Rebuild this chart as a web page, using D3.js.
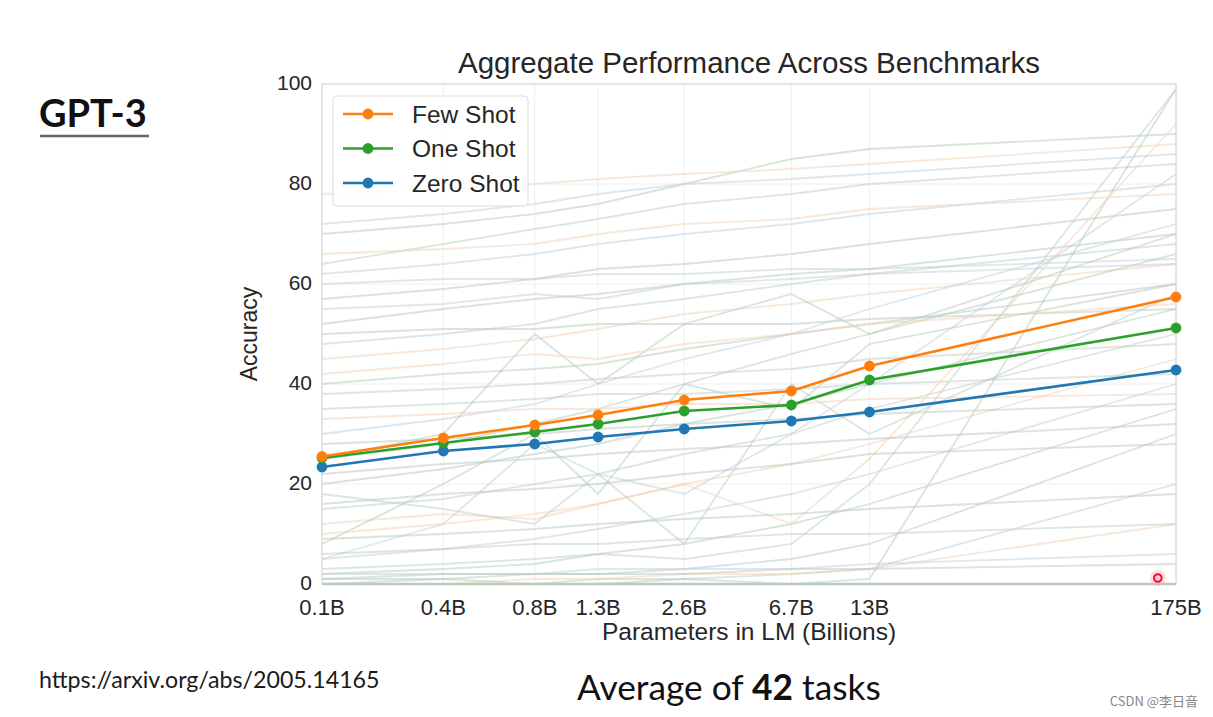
<!DOCTYPE html>
<html><head><meta charset="utf-8">
<script src="https://cdn.jsdelivr.net/npm/d3@7/dist/d3.min.js"></script>
<style>body{margin:0;background:#fff;}svg{display:block;}</style>
</head><body>
<svg id="chart" width="1213" height="717"></svg>
<script>
// ---- data ----
const params = [0.125, 0.35, 0.76, 1.3, 2.7, 6.7, 13, 175];
const tickLabels = ["0.1B","0.4B","0.8B","1.3B","2.6B","6.7B","13B","175B"];
const yTicks = [0,20,40,60,80,100];
const seriesNames = ["Few Shot","One Shot","Zero Shot"];
const fewShot  = [25.5, 29.2, 31.8, 33.8, 36.8, 38.6, 43.6, 57.4];
const oneShot  = [25.2, 28.2, 30.4, 32.0, 34.6, 35.8, 40.8, 51.2];
const zeroShot = [23.4, 26.6, 28.0, 29.4, 31.0, 32.6, 34.4, 42.8];
// faint per-task curves (estimated)
const tasks = [
 [70,72,74,76,80,85,87,90],[64,68,71,73,76,78,80,84],[78,79,80,81,82,83,84,88],
 [62,64,66,68,70,72,74,80],[57,59,61,63,64,66,68,75],[52,55,57,58,60,62,63,70],
 [48,50,52,55,57,60,62,68],[45,47,49,51,54,56,58,64],[60,61,61,62,62,63,63,65],
 [50,51,51,52,52,52,53,55],[40,42,43,44,47,50,52,60],[35,36,37,38,38,39,40,42],
 [33,34,35,35,36,36,37,38],[30,33,36,40,45,50,55,72],[25,28,32,35,40,46,50,66],
 [20,23,26,28,32,36,40,55],[15,17,20,22,26,30,35,50],[10,12,14,16,20,24,28,45],
 [5,7,9,11,14,18,22,40],[2,3,4,6,8,12,16,35],[1,1,2,2,3,5,8,30],
 [0,0,0,1,1,2,3,20],[0,0,1,1,2,2,3,12],[2,2,2,3,3,3,4,6],
 [1,2,2,2,2,3,3,4],[0,1,0,0,1,0,1,99],[3,4,5,6,5,8,20,99],
 [12,14,13,16,20,12,25,92],[5,12,28,22,18,30,40,82],[25,30,50,40,52,58,50,70],
 [8,20,30,18,40,35,48,60],[18,15,12,22,8,40,30,58],[42,44,46,45,48,50,52,56],
 [55,56,58,57,60,61,62,64],[22,24,25,26,27,28,29,32],[28,29,30,31,32,33,34,36],
 [38,39,40,41,42,43,45,48],[66,67,68,70,72,73,75,78],[72,74,76,78,80,81,82,86],
 [16,18,19,20,22,24,26,28],[9,10,11,12,13,14,15,18],[6,7,8,8,9,10,10,12]
];
const seriesColors = ["#ff7f0e","#2ca02c","#1f77b4"];
const taskColors = ["#b3cabb","#bccdc3","#f3d2b4","#bfd0dc","#b6c8bc"];

// ---- chart ----
const svg = d3.select("#chart");
const L=322, R=1176, T=84, B=584;
const x = d3.scaleLog().domain([params[0], params[params.length-1]]).range([L,R]);
const y = d3.scaleLinear().domain([0,100]).range([B,T]);
const font = "'Liberation Sans', Arial, sans-serif";

// grid
svg.append("g").selectAll("line").data(params).join("line")
  .attr("x1",d=>x(d)).attr("x2",d=>x(d)).attr("y1",T).attr("y2",B)
  .attr("stroke","#efefef").attr("stroke-width",1);
svg.append("g").selectAll("line").data(yTicks).join("line")
  .attr("x1",L).attr("x2",R).attr("y1",d=>y(d)).attr("y2",d=>y(d))
  .attr("stroke","#efefef").attr("stroke-width",1);

const line = d3.line().x((d,i)=>x(params[i])).y(d=>y(d));
// task lines
svg.append("g").selectAll("path").data(tasks).join("path")
  .attr("d",line).attr("fill","none")
  .attr("stroke",(d,i)=>taskColors[i%taskColors.length])
  .attr("stroke-opacity",0.5).attr("stroke-width",1.8);

// frame
svg.append("rect").attr("x",L).attr("y",T).attr("width",R-L).attr("height",B-T)
  .attr("fill","none").attr("stroke","#d9d9d9").attr("stroke-width",1.2);
svg.append("line").attr("x1",L).attr("x2",R).attr("y1",B).attr("y2",B)
  .attr("stroke","#bccac0").attr("stroke-width",2.5);

// main series
const allSeries=[fewShot,oneShot,zeroShot];
[2,1,0].forEach(k=>{
  const g=svg.append("g");
  g.append("path").datum(allSeries[k]).attr("d",line).attr("fill","none")
    .attr("stroke",seriesColors[k]).attr("stroke-width",2.6);
  g.selectAll("circle").data(allSeries[k]).join("circle")
    .attr("cx",(d,i)=>x(params[i])).attr("cy",d=>y(d)).attr("r",5.4)
    .attr("fill",seriesColors[k]);
});

// y ticks
svg.append("g").selectAll("text").data(yTicks).join("text")
  .attr("x",L-10).attr("y",d=>y(d)).attr("dy","0.3em").attr("text-anchor","end")
  .attr("font-family",font).attr("font-size",21).attr("fill","#262626").text(d=>d);
// x ticks
svg.append("g").selectAll("text").data(params).join("text")
  .attr("x",d=>x(d)).attr("y",B+31).attr("text-anchor","middle")
  .attr("font-family",font).attr("font-size",22).attr("fill","#262626")
  .text((d,i)=>tickLabels[i]);
// axis titles
svg.append("text").attr("x",749).attr("y",B+56).attr("text-anchor","middle")
  .attr("font-family",font).attr("font-size",24.5).attr("fill","#262626")
  .text("Parameters in LM (Billions)");
svg.append("text").attr("transform",`translate(257,${(T+B)/2}) rotate(-90)`)
  .attr("text-anchor","middle").attr("font-family",font).attr("font-size",23)
  .attr("fill","#262626").text("Accuracy");
svg.append("text").attr("x",749).attr("y",73).attr("text-anchor","middle")
  .attr("font-family",font).attr("font-size",29.5).attr("fill","#262626")
  .text("Aggregate Performance Across Benchmarks");

// legend
const lg=svg.append("g").attr("transform","translate(333,96)");
lg.append("rect").attr("width",195).attr("height",110).attr("rx",4)
  .attr("fill","#fff").attr("fill-opacity",0.85).attr("stroke","#dcdcdc");
seriesNames.forEach((n,i)=>{
  const yy=18+i*34.5;
  lg.append("line").attr("x1",10).attr("x2",60).attr("y1",yy).attr("y2",yy)
    .attr("stroke",seriesColors[i]).attr("stroke-width",2.6);
  lg.append("circle").attr("cx",35).attr("cy",yy).attr("r",5.4).attr("fill",seriesColors[i]);
  lg.append("text").attr("x",79).attr("y",yy).attr("dy","0.36em")
    .attr("font-family",font).attr("font-size",24.5).attr("fill","#262626").text(n);
});

// cursor dot
const cd = svg.append("g").attr("transform",`translate(${x(150)},${y(1.2)})`);
cd.append("circle").attr("r",8).attr("fill","#ff9aa8").attr("opacity",0.35);
cd.append("circle").attr("r",3.8).attr("fill","#ffd0d8").attr("stroke","#e8112d").attr("stroke-width",2);

// slide texts
const sf="Lato, 'Open Sans', sans-serif";
svg.append("text").attr("x",39).attr("y",127).attr("font-family",sf).attr("font-weight",700)
  .attr("font-size",38).attr("fill","#111").text("GPT-3");
svg.append("line").attr("x1",40).attr("x2",149).attr("y1",136).attr("y2",136)
  .attr("stroke","#666").attr("stroke-width",2.5);
svg.append("text").attr("x",39).attr("y",688).attr("font-family",sf)
  .attr("font-size",23.2).attr("fill","#1a1a1a").text("https://arxiv.org/abs/2005.14165");
const avg=svg.append("text").attr("x",577).attr("y",700).attr("font-family",sf)
  .attr("font-size",35.3).attr("fill","#111");
avg.append("tspan").text("Average of ");
avg.append("tspan").attr("font-weight",700).text("42");
avg.append("tspan").text(" tasks");
svg.append("text").attr("x",1198).attr("y",706).attr("text-anchor","end")
  .attr("font-family","'Noto Sans CJK SC', sans-serif").attr("font-size",13)
  .attr("fill","#888").text("CSDN @李日音");
</script>
</body></html>
